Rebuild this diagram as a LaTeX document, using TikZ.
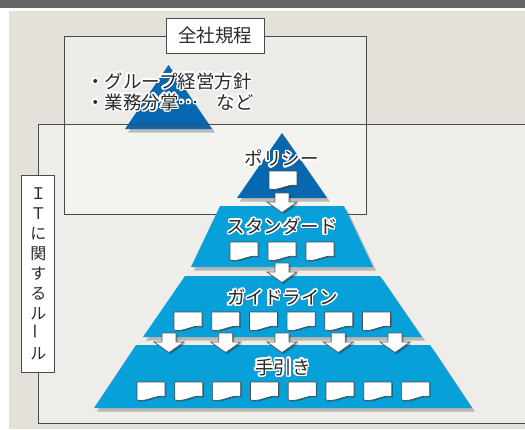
\documentclass[tikz,border=0pt]{standalone}
\usepackage{fontspec}
\setmainfont{Noto Sans CJK JP}
\usepackage{graphicx}
\usepackage[copies]{contour}
\contourlength{1.5pt}
\contournumber{24}
\usetikzlibrary{shadows}
\definecolor{band}{HTML}{646464}
\definecolor{beige}{HTML}{E4E1DB}
\definecolor{panel}{HTML}{EEEDE9}
\definecolor{frame}{HTML}{4A4A4A}
\definecolor{deepblue}{HTML}{0767B1}
\definecolor{skyblue}{HTML}{08A0D9}
\definecolor{ink}{HTML}{2A2A2A}
\tikzset{
  tier/.style={draw=none, drop shadow={shadow xshift=3pt, shadow yshift=-3.5pt, opacity=0.4, fill=black!60}},
  docstyle/.style={draw=black!70, fill=white, line width=0.7pt, line join=round,
    drop shadow={shadow xshift=1pt, shadow yshift=-1pt, opacity=0.3, fill=black}},
  arrowstyle/.style={draw=black!65, fill=white, line width=0.7pt, line join=miter,
    drop shadow={shadow xshift=1.5pt, shadow yshift=-1.5pt, opacity=0.3, fill=black}},
  lbl/.style={font=\fontsize{18.5}{21}\selectfont, text=ink, inner sep=0pt},
  boxline/.style={draw=frame, line width=0.8pt},
  docicon/.pic={\path[docstyle] (-14,-9) -- (14,-9) -- (14,5.5) .. controls (4,3.5) and (-4,11.5) .. (-14,9) -- cycle;},
  blockdown/.pic={\path[arrowstyle] (-7,0) -- (7,0) -- (7,9) -- (15,9) -- (0,19.5) -- (-15,9) -- (-7,9) -- cycle;},
}
\begin{document}
\begin{tikzpicture}[x=1pt,y=-1pt]
\useasboundingbox (0,0) rectangle (525,429);
% backgrounds
\fill[white] (0,0) rectangle (525,429);
\fill[band] (0,0) rectangle (525,8);
\fill[beige] (9,11) rectangle (525,429);
\fill[panel] (38,124) rectangle (525,423);
\fill[white, opacity=0.35] (64,36) rectangle (366,214);
% company-wide rules
\path[tier, fill=deepblue] (125,129) -- (168.5,65) -- (212,129) -- cycle;
\node[lbl, anchor=west] (rule1) at (86,82) {\contour{white}{・グループ経営方針}};
\node[lbl, anchor=west] (rule2) at (86,103) {\contour{white}{・業務分掌\raisebox{0.33em}{…}　など}};
% frames
\draw[boxline] (530,124) -- (38,124) -- (38,423) -- (530,423);
\draw[boxline] (64,36) rectangle (366,214);
% pyramid
\path[tier, fill=deepblue] (237,198) -- (282,133) -- (327,198) -- cycle;
\path[tier, fill=skyblue] (220,206) -- (344,206) -- (373,267) -- (191,267) -- cycle;
\path[tier, fill=skyblue] (185,276) -- (380,276) -- (422,337) -- (143,337) -- cycle;
\path[tier, fill=skyblue] (136,345) -- (430,345) -- (472,408) -- (94,408) -- cycle;
% labels
\node[lbl] (policy) at (281.5,159) {\contour{white}{ポリシー}};
\node[lbl] (standard) at (282,227) {\contour{white}{スタンダード}};
\node[lbl] (guideline) at (282.5,298) {\contour{white}{ガイドライン}};
\node[lbl] (manual) at (283,368) {\contour{white}{手引き}};
% documents
\pic at (283,180) {docicon};
\foreach \x in {244,282,320} \pic at (\x,251) {docicon};
\foreach \k in {0,...,5} \pic at (188+37.7*\k,321) {docicon};
\foreach \k in {0,...,7} \pic at (151+37.8*\k,391) {docicon};
% arrows
\pic at (282,193) {blockdown};
\pic at (282,263) {blockdown};
\foreach \x in {169,225.7,282,338.3,395} \pic at (\x,333) {blockdown};
% title boxes
\node[boxline, fill=white, minimum width=98, minimum height=35, inner sep=0pt,
  font=\fontsize{18.5}{20}\selectfont, text=ink] (zensha) at (215,35.5) {全社規程};
\node[boxline, fill=white, minimum width=33, minimum height=197, inner sep=0pt,
  align=center, font=\fontsize{16}{20}\selectfont, text=ink] (itrules) at (38.3,273.5)
  {Ｉ\\Ｔ\\に\\関\\す\\る\\ル\\\rotatebox{90}{ー}\\ル};
\end{tikzpicture}
\end{document}
